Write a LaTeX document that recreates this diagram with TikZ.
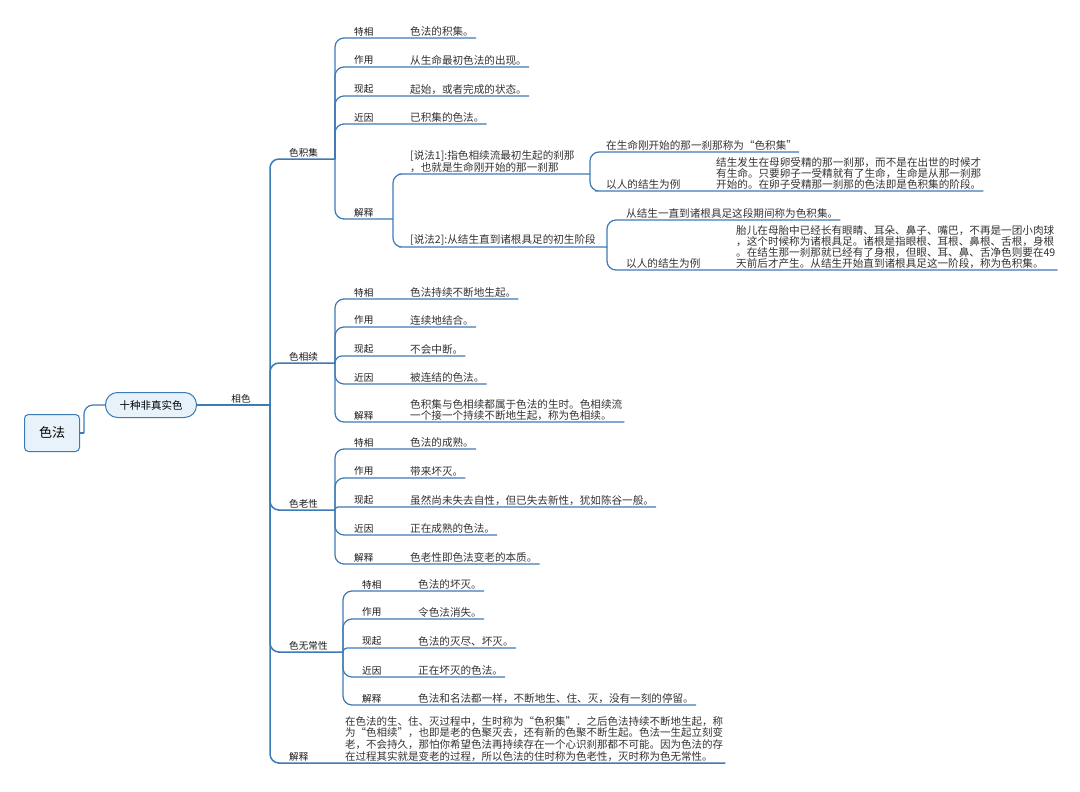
\documentclass[tikz,border=0pt]{standalone}
\usepackage{fontspec}
\newfontfamily\cjk{Noto Sans CJK SC}
\usepackage{tikz}
\usetikzlibrary{calc}
\definecolor{mapblue}{RGB}{62,122,180}
\definecolor{mapfill}{RGB}{232,242,251}
\newcommand{\bend}[2]{let \p1=(#1),\p2=(#2),\n1={min(max(abs(\y2-\y1),0.5),9)} in [rounded corners=\n1] (#1) |- (#2)}

\begin{document}
\begin{tikzpicture}[x=1pt,y=-1pt,
 br/.style={draw=mapblue,line width=1.2pt},
 trunk/.style={br,line width=1.5pt},
 rootbox/.style={draw=mapblue,fill=mapfill,line width=1pt,rounded corners=4pt,minimum width=55pt,minimum height=37pt,font=\cjk\fontsize{13}{15}\selectfont},
 pill/.style={rootbox,rounded corners=12pt,minimum width=91pt,minimum height=25pt,font=\cjk\fontsize{10.5}{12}\selectfont},
 lab/.style={anchor=south west,inner xsep=2pt,inner ysep=2pt,text=black!90,font=\cjk\fontsize{9.6}{10}\selectfont},
 txt/.style={anchor=south west,align=left,inner xsep=2pt,inner ysep=1.5pt,text=black!80,font=\cjk\fontsize{10.6}{10.8}\selectfont}]
\fill[white] (0,0) rectangle (1080,792);
\useasboundingbox (0,0) rectangle (1080,792);
% root and first topic
\node[rootbox] (sefa) at (52,433) {色法};
\node[pill] (shizhong) at (151,405) {十种非真实色};
\coordinate (rootB) at (84,433);
\coordinate (T) at (270,405);
\draw[br] (sefa.east) -- (rootB);
\draw[br] \bend{rootB}{shizhong.west};
\node[lab,anchor=south] (xiangse) at (241,405) {相色};
\draw[trunk] (shizhong.east) -- (T);
% main branches
\node[lab] (jiji) at (287,159) {色积集};
\node[lab] (xiangxu) at (287,363) {色相续};
\node[lab] (laoxing) at (287,510) {色老性};
\node[lab] (wuchang) at (287,652) {色无常性};
\node[lab] (jieshi) at (287,763) {解释};
\node[txt,font=\cjk\fontsize{10.5}{11.6}\selectfont] (jieshiT) at (343,763) {在色法的生、住、灭过程中，生时称为“色积集”．之后色法持续不断地生起，称\\为“色相续”，也即是老的色聚灭去，还有新的色聚不断生起。色法一生起立刻变\\老，不会持久，那怕你希望色法再持续存在一个心识刹那都不可能。因为色法的存\\在过程其实就是变老的过程，所以色法的住时称为色老性，灭时称为色无常性。};
\coordinate (jijiB) at (335,159);
\coordinate (xiangxuB) at (335,363);
\coordinate (laoxingB) at (335,510);
\coordinate (wuchangB) at (343,652);
\draw[trunk] \bend{T}{jiji.south west} -- (jijiB);
\draw[trunk] \bend{T}{xiangxu.south west} -- (xiangxuB);
\draw[trunk] \bend{T}{laoxing.south west} -- (laoxingB);
\draw[trunk] \bend{T}{wuchang.south west} -- (wuchangB);
\draw[trunk] \bend{T}{jieshi.south west} -- (jieshiT.south east);
% 色积集
\foreach \i/\y/\a/\b in {1/38/特相/色法的积集。,2/67/作用/从生命最初色法的出现。,3/96/现起/起始，或者完成的状态。,4/124/近因/已积集的色法。}{
 \node[lab] (j\i) at (352,\y) {\a};
 \node[txt] (jt\i) at (408,\y) {\b};
 \draw[br] \bend{jijiB}{j\i.south west} -- (jt\i.south east);
}
\node[lab] (j5) at (352,219) {解释};
\coordinate (j5B) at (393,219);
\draw[br] \bend{jijiB}{j5.south west} -- (j5B);
\node[txt] (shuo1) at (408,174) {[说法1]:指色相续流最初生起的刹那\\，也就是生命刚开始的那一刹那};
\node[txt] (shuo2) at (408,247) {[说法2]:从结生直到诸根具足的初生阶段};
\coordinate (shuo1B) at (590,174);
\coordinate (shuo2B) at (607,247);
\draw[br] \bend{j5B}{shuo1.south west} -- (shuo1B);
\draw[br] \bend{j5B}{shuo2.south west} -- (shuo2B);
\node[txt] (chusheng) at (604,152) {在生命刚开始的那一刹那称为“色积集”};
\node[txt] (jiesheng1) at (604,191) {以人的结生为例};
\node[txt] (jiesheng1T) at (714,191) {结生发生在母卵受精的那一刹那，而不是在出世的时候才\\有生命。只要卵子一受精就有了生命，生命是从那一刹那\\开始的。在卵子受精那一刹那的色法即是色积集的阶段。};
\draw[br] \bend{shuo1B}{chusheng.south east};
\draw[br] \bend{shuo1B}{jiesheng1.south west} -- (jiesheng1T.south east);
\node[txt] (qijian) at (624,220) {从结生一直到诸根具足这段期间称为色积集。};
\node[txt] (jiesheng2) at (624,270) {以人的结生为例};
\node[txt] (jiesheng2T) at (734,270) {胎儿在母胎中已经长有眼睛、耳朵、鼻子、嘴巴，不再是一团小肉球\\，这个时候称为诸根具足。诸根是指眼根、耳根、鼻根、舌根，身根\\。在结生那一刹那就已经有了身根，但眼、耳、鼻、舌净色则要在49\\天前后才产生。从结生开始直到诸根具足这一阶段，称为色积集。};
\draw[br] \bend{shuo2B}{qijian.south east};
\draw[br] \bend{shuo2B}{jiesheng2.south west} -- (jiesheng2T.south east);
% 色相续
\foreach \i/\y/\a/\b in {1/299/特相/色法持续不断地生起。,2/327/作用/连续地结合。,3/356/现起/不会中断。,4/384/近因/被连结的色法。,5/422/解释/色积集与色相续都属于色法的生时。色相续流\\一个接一个持续不断地生起，称为色相续。}{
 \node[lab] (x\i) at (352,\y) {\a};
 \node[txt] (xt\i) at (408,\y) {\b};
 \draw[br] \bend{xiangxuB}{x\i.south west} -- (xt\i.south east);
}
% 色老性
\foreach \i/\y/\a/\b in {1/449/特相/色法的成熟。,2/478/作用/带来坏灭。,3/507/现起/虽然尚未失去自性，但已失去新性，犹如陈谷一般。,4/535/近因/正在成熟的色法。,5/564/解释/色老性即色法变老的本质。}{
 \node[lab] (l\i) at (352,\y) {\a};
 \node[txt] (lt\i) at (408,\y) {\b};
 \draw[br] \bend{laoxingB}{l\i.south west} -- (lt\i.south east);
}
% 色无常性
\foreach \i/\y/\a/\b in {1/591/特相/色法的坏灭。,2/619/作用/令色法消失。,3/648/现起/色法的灭尽、坏灭。,4/677/近因/正在坏灭的色法。,5/705/解释/色法和名法都一样，不断地生、住、灭，没有一刻的停留。}{
 \node[lab] (w\i) at (360,\y) {\a};
 \node[txt] (wt\i) at (416,\y) {\b};
 \draw[br] \bend{wuchangB}{w\i.south west} -- (wt\i.south east);
}
\end{tikzpicture}
\end{document}
